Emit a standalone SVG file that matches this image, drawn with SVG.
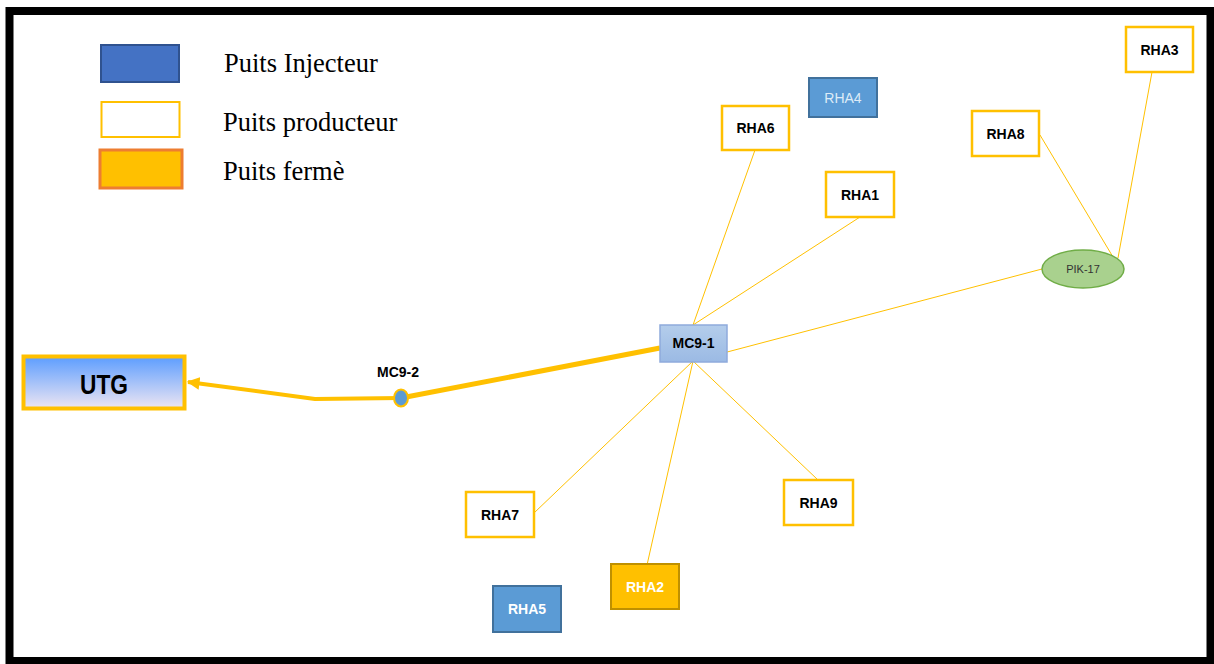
<svg xmlns="http://www.w3.org/2000/svg" width="1214" height="664" viewBox="0 0 1214 664">
<defs>
<style>
.lg{font-family:"Liberation Serif","Times New Roman",serif;font-size:26.5px;fill:#000}
.bx{font-family:"Liberation Sans",Arial,sans-serif;font-size:14px;font-weight:bold;text-anchor:middle}
.prod{fill:#fff;stroke:#FFC000;stroke-width:2.5}
.inj{fill:#5B9BD5;stroke:#41719C;stroke-width:2}
.thin{stroke:#FFC000;stroke-width:1;fill:none}
.thick{stroke:#FFC000;fill:none;stroke-linejoin:round}
</style>
<linearGradient id="utgG" x1="0" y1="0" x2="0" y2="1">
<stop offset="0" stop-color="#5C9DFF"/>
<stop offset="1" stop-color="#EEE6F2"/>
</linearGradient>
<linearGradient id="mcG" x1="0" y1="0" x2="0" y2="1">
<stop offset="0" stop-color="#B4CDEB"/>
<stop offset="1" stop-color="#9BBAE4"/>
</linearGradient>
<marker id="arr" viewBox="0 0 10 10" refX="9" refY="5" markerWidth="3.2" markerHeight="3.2" orient="auto">
<path d="M0,0 L10,5 L0,10 z" fill="#FFC000"/>
</marker>
</defs>
<rect x="0" y="0" width="1214" height="664" fill="#fff"/>
<rect x="9.5" y="11" width="1201" height="650" fill="none" stroke="#000" stroke-width="8"/>

<g id="legend">
<rect x="101" y="45" width="78" height="37" fill="#4472C4" stroke="#2F528F" stroke-width="2"/>
<rect x="101.5" y="102" width="78" height="35" fill="#fff" stroke="#FFC000" stroke-width="2"/>
<rect x="100" y="150" width="82" height="38" fill="#FFC000" stroke="#ED7D31" stroke-width="3"/>
<text class="lg" x="224" y="72">Puits Injecteur</text>
<text class="lg" x="223" y="131">Puits producteur</text>
<text class="lg" x="223" y="180">Puits fermè</text>
</g>

<g id="connectors">
<polyline class="thick" stroke-width="4" points="401,398 315,399 188,382" marker-end="url(#arr)"/>
<line class="thick" stroke-width="5" x1="401" y1="398" x2="660" y2="348"/>
<line class="thin" x1="693" y1="325" x2="755" y2="150"/>
<line class="thin" x1="693" y1="325" x2="860" y2="217"/>
<line class="thin" x1="693" y1="361" x2="1042" y2="269"/>
<line class="thin" x1="693" y1="361" x2="534" y2="513"/>
<line class="thin" x1="693" y1="361" x2="647" y2="565"/>
<line class="thin" x1="693" y1="361" x2="818" y2="480"/>
<line class="thin" x1="1113" y1="257" x2="1040" y2="135"/>
<line class="thin" x1="1118" y1="258" x2="1152" y2="72"/>
</g>

<g id="UTG">
<rect x="23.5" y="356.5" width="161" height="52" fill="url(#utgG)" stroke="#FFC000" stroke-width="4"/>
<text x="104" y="394" font-family="'Liberation Sans',Arial,sans-serif" font-size="28" font-weight="bold" text-anchor="middle" fill="#000" textLength="48" lengthAdjust="spacingAndGlyphs">UTG</text>
</g>

<g id="MC9-2">
<ellipse cx="401" cy="398" rx="7" ry="8.5" fill="#5B9BD5" stroke="#FFC000" stroke-width="2"/>
<text class="bx" x="398" y="377" fill="#000">MC9-2</text>
</g>

<g id="MC9-1">
<rect x="660" y="325" width="67" height="37" fill="url(#mcG)" stroke="#8FAADC" stroke-width="1.5"/>
<text class="bx" x="693.5" y="348" font-size="13" fill="#000">MC9-1</text>
</g>

<g id="PIK-17">
<ellipse cx="1083" cy="269" rx="41" ry="19" fill="#A9D18E" stroke="#70AD47" stroke-width="1.5"/>
<text x="1083" y="273" font-family="'Liberation Sans',Arial,sans-serif" font-size="11" text-anchor="middle" fill="#333">PIK-17</text>
</g>

<g id="RHA3">
<rect class="prod" x="1126" y="27" width="67" height="45"/>
<text class="bx" x="1159.5" y="55" fill="#000">RHA3</text>
</g>
<g id="RHA8">
<rect class="prod" x="972" y="111" width="67" height="45"/>
<text class="bx" x="1005.5" y="139" fill="#000">RHA8</text>
</g>
<g id="RHA4">
<rect class="inj" x="809" y="78" width="68" height="39"/>
<text x="843" y="103" font-family="'Liberation Sans',Arial,sans-serif" font-size="14" text-anchor="middle" fill="#DDEBF7">RHA4</text>
</g>
<g id="RHA6">
<rect class="prod" x="722" y="106" width="67" height="44"/>
<text class="bx" x="755.5" y="133" fill="#000">RHA6</text>
</g>
<g id="RHA1">
<rect class="prod" x="826" y="172" width="68" height="45"/>
<text class="bx" x="860" y="200" fill="#000">RHA1</text>
</g>
<g id="RHA7">
<rect class="prod" x="466" y="492" width="68" height="45"/>
<text class="bx" x="500" y="520" fill="#000">RHA7</text>
</g>
<g id="RHA9">
<rect class="prod" x="784" y="480" width="69" height="45"/>
<text class="bx" x="818.5" y="508" fill="#000">RHA9</text>
</g>
<g id="RHA2">
<rect x="611" y="564" width="68" height="45" fill="#FFC000" stroke="#BF9000" stroke-width="2"/>
<text class="bx" x="645" y="592" fill="#fff">RHA2</text>
</g>
<g id="RHA5">
<rect class="inj" x="493" y="586" width="68" height="46"/>
<text class="bx" x="527" y="614" fill="#fff">RHA5</text>
</g>
</svg>
